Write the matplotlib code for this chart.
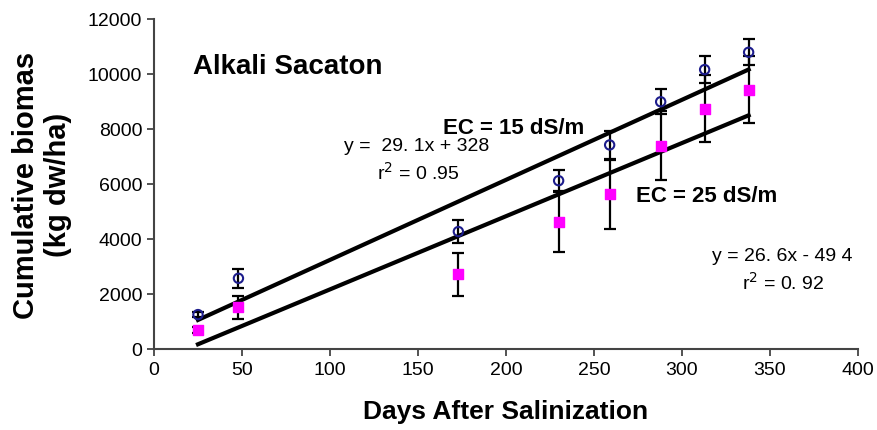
import matplotlib.pyplot as plt
import numpy as np

plt.rcParams['font.family'] = ['Liberation Sans', 'DejaVu Sans']

# data
days = np.array([25, 48, 173, 230, 259, 288, 313, 338])
ec15 = np.array([1250, 2570, 4270, 6120, 7420, 8990, 10160, 10790])
ec15_err = np.array([100, 350, 420, 390, 500, 460, 480, 480])
ec25 = np.array([690, 1510, 2710, 4630, 5620, 7390, 8730, 9420])
ec25_err = np.array([100, 420, 790, 1090, 1240, 1250, 1220, 1220])

# fitted lines from the equations on the chart
fit15 = (29.1, 328)
fit25 = (26.6, -494)

fig = plt.figure(figsize=(8.77, 4.31), dpi=100)
ax = fig.add_axes([0.1756, 0.188, 0.8024, 0.7656])

xl = np.array([days[0], days[-1]])
ax.plot(xl, fit15[0]*xl + fit15[1], c='black', lw=3, zorder=2)
ax.plot(xl, fit25[0]*xl + fit25[1], c='black', lw=3, zorder=2)

ax.errorbar(days, ec15, yerr=ec15_err, fmt='none', ecolor='black', elinewidth=1.6, capsize=4, capthick=1.6, zorder=3)
ax.errorbar(days, ec25, yerr=ec25_err, fmt='none', ecolor='black', elinewidth=1.6, capsize=4, capthick=1.6, zorder=3)
ax.scatter(days, ec15, marker='o', s=45, facecolors='none', edgecolors='#1c1c8c', linewidths=1.5, zorder=4)
ax.scatter(days, ec25, marker='s', s=60, c='#ff00ff', zorder=4)

ax.set_xlim(0, 400)
ax.set_ylim(0, 12000)
ax.set_xticks(np.arange(0, 401, 50))
ax.set_yticks(np.arange(0, 12001, 2000))
ax.tick_params(labelsize=14, length=5, width=1.3, color='#444444', direction='out')
for s in ['top', 'right']:
    ax.spines[s].set_visible(False)
for s in ['left', 'bottom']:
    ax.spines[s].set_color('#444444')
    ax.spines[s].set_linewidth(1.5)

ax.set_xlabel('Days After Salinization', fontsize=19, fontweight='bold', labelpad=15)
ax.set_ylabel('Cumulative biomas\n(kg dw/ha)', fontsize=21, fontweight='bold', linespacing=1.2)
ax.yaxis.set_label_coords(-0.116, 0.5)

ax.text(22, 10300, 'Alkali Sacaton', fontsize=20, fontweight='bold', va='center')
ax.text(164, 8070, 'EC = 15 dS/m', fontsize=16, fontweight='bold', va='center')
ax.text(108, 7390, 'y =  29. 1x + 328', fontsize=14, va='center')
ax.text(127, 6430, 'r$^2$ = 0 .95', fontsize=14, va='center')
ax.text(274, 5570, 'EC = 25 dS/m', fontsize=16, fontweight='bold', va='center')
ax.text(317, 3390, 'y = 26. 6x - 49 4', fontsize=14, va='center')
ax.text(334, 2430, 'r$^2$ = 0. 92', fontsize=14, va='center')

fig.savefig('out.png', dpi=100)
